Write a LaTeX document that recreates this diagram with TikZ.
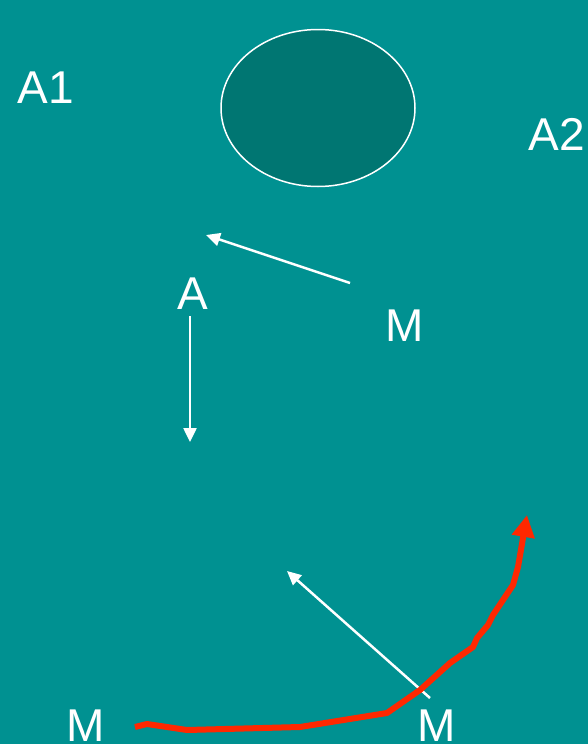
\documentclass[tikz,border=0pt]{standalone}
\usepackage{fontspec}
\setmainfont{Liberation Sans}
\usetikzlibrary{arrows.meta,shapes.geometric}
\definecolor{bg}{RGB}{0,145,145}
\definecolor{cell}{RGB}{0,118,114}
\definecolor{redline}{RGB}{255,40,0}
\begin{document}
\begin{tikzpicture}[x=1pt,y=-1pt,
  lbl/.style={text=white,font=\fontsize{46}{46}\selectfont,inner sep=0pt,anchor=base},
  warrow/.style={draw=white,line width=2.5pt,-{Triangle[length=14pt,width=13pt]}},
  rarrow/.style={draw=redline,line width=6pt,line join=round,-{Triangle[length=22pt,width=22pt]}}]
\fill[bg] (0,0) rectangle (588,744);
\useasboundingbox (0,0) rectangle (588,744);
\node[draw=white,line width=1.5pt,fill=cell,ellipse,minimum width=194pt,minimum height=157pt,inner sep=0pt] (cellnode) at (318,108) {};
\node[lbl] (a1) at (46,103) {A1};
\node[lbl] (a2) at (557,150) {A2};
\node[lbl] (a) at (193,309) {A};
\node[lbl] (m1) at (405,341) {M};
\node[lbl] (m2) at (86,741) {M};
\node[lbl] (m3) at (437,741) {M};
\coordinate (p1s) at (350,283);
\coordinate (p1e) at (206,235);
\coordinate (p2s) at (190,316);
\coordinate (p2e) at (190,442);
\coordinate (p3s) at (430,698);
\coordinate (p3e) at (287,571);
\draw[warrow] (p1s) -- (p1e);
\draw[warrow] (p2s) -- (p2e);
\draw[warrow] (p3s) -- (p3e);
\coordinate (rs) at (135,727);
\coordinate (re) at (527,515);
\draw[rarrow] (rs) -- (147,724) -- (187,730) -- (300,727) -- (387,713) -- (420,690) -- (450,663) -- (473,647) -- (477,638) -- (488,625) -- (493,615) -- (513,585) -- (518,567) -- (523,538) -- (re);
\end{tikzpicture}
\end{document}
